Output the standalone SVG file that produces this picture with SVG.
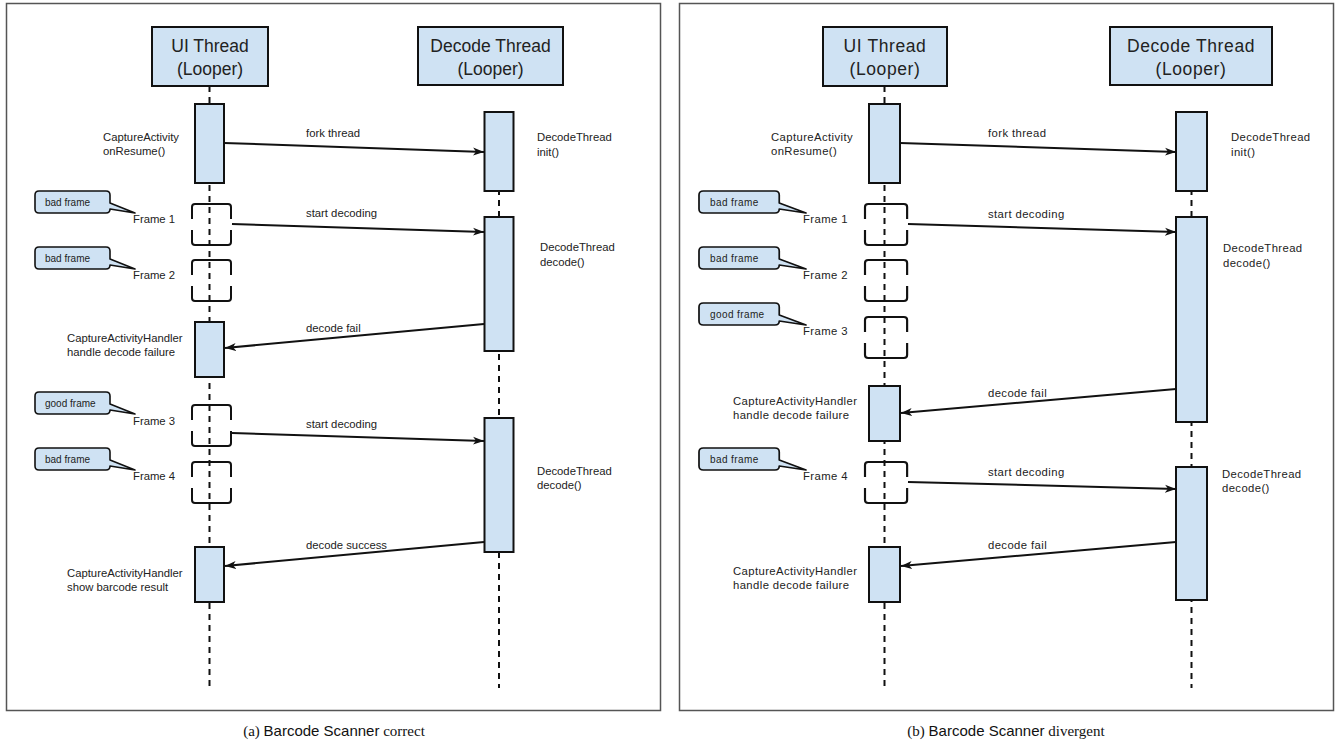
<svg xmlns="http://www.w3.org/2000/svg" xmlns:xlink="http://www.w3.org/1999/xlink" width="1340" height="749" viewBox="0 0 1340 749">
  <style>
    .panel { fill: #ffffff; stroke: #555555; stroke-width: 1.5; }
    .head { fill: #cfe2f3; stroke: #111111; stroke-width: 2; }
    .act { fill: #cfe2f3; stroke: #111111; stroke-width: 2; }
    .life { fill: none; stroke: #111111; stroke-width: 2; stroke-dasharray: 6 5; }
    .frame { fill: none; stroke: #111111; stroke-width: 2; }
    .call { fill: #cfe2f3; stroke: #111111; stroke-width: 1.6; stroke-linejoin: round; }
    .msg { fill: none; stroke: #111111; stroke-width: 2; marker-end: url(#arr); }
    text { font-family: "Liberation Sans", Arial, sans-serif; fill: #222222; }
    .ht { font-size: 17.5px; text-anchor: middle; }
    .t { font-size: 11.3px; }
    .ct { font-size: 10px; }
    .w .t, .w .ct { letter-spacing: 0.4px; }
    .w .ht { letter-spacing: 0.6px; }
    .cap { font-size: 15px; fill: #111111; }
    .serif { font-family: "Liberation Serif", "Times New Roman", serif; }
  </style>
  <defs>
    <marker id="arr" markerUnits="userSpaceOnUse" markerWidth="13" markerHeight="10" refX="11" refY="5" orient="auto">
      <path d="M0,1 L11,5 L0,9 L3,5 Z" fill="#111111"/>
    </marker>
    <!-- camera frame: open-sided bracket box -->
    <path id="frm" class="frame" d="M0,15 V3 Q0,0 3,0 H36 Q39,0 39,3 V15 M0,26 V38 Q0,41 3,41 H36 Q39,41 39,38 V26"/>
    <!-- speech-bubble callout with tail pointing to lower right -->
    <path id="bub" class="call" d="M4,0 H71 Q75,0 75,4 V12 L100,22 L75,18 Q75,22 71,22 H4 Q0,22 0,18 V4 Q0,0 4,0 Z"/>
  </defs>

  <rect width="1340" height="749" fill="#ffffff"/>

  <!-- ===================== (a) correct ===================== -->
  <g id="panel-a">
    <rect class="panel" x="6.5" y="3.5" width="654" height="707"/>

    <g id="a-lifelines">
      <line class="life" x1="209.5" y1="86" x2="209.5" y2="686"/>
      <line class="life" x1="499" y1="112" x2="499" y2="688"/>
    </g>

    <g id="a-ui-head">
      <rect class="head" x="152" y="27" width="116" height="59"/>
      <text class="ht" x="210" y="52">UI Thread</text>
      <text class="ht" x="210" y="75">(Looper)</text>
    </g>
    <g id="a-decode-head">
      <rect class="head" x="418" y="27" width="145" height="58"/>
      <text class="ht" x="490.5" y="52">Decode Thread</text>
      <text class="ht" x="490.5" y="75">(Looper)</text>
    </g>

    <g id="a-resume">
      <rect class="act" x="195" y="104" width="29" height="79"/>
      <text class="t" x="103" y="141">CaptureActivity</text>
      <text class="t" x="103" y="155">onResume()</text>
    </g>
    <g id="a-init">
      <rect class="act" x="484.5" y="112" width="29" height="79"/>
      <text class="t" x="537" y="141">DecodeThread</text>
      <text class="t" x="537" y="156">init()</text>
    </g>
    <g id="a-decode1">
      <rect class="act" x="484.5" y="217" width="29" height="134"/>
      <text class="t" x="540" y="251">DecodeThread</text>
      <text class="t" x="540" y="266">decode()</text>
    </g>
    <g id="a-decode2">
      <rect class="act" x="484.5" y="418" width="29" height="134"/>
      <text class="t" x="537" y="475">DecodeThread</text>
      <text class="t" x="537" y="489">decode()</text>
    </g>

    <g id="a-frame1">
      <use xlink:href="#frm" href="#frm" transform="translate(192 204)"/>
      <use xlink:href="#bub" href="#bub" transform="translate(35 191)"/>
      <text class="ct" x="45" y="206">bad frame</text>
      <text class="t" x="133" y="223">Frame 1</text>
    </g>
    <g id="a-frame2">
      <use xlink:href="#frm" href="#frm" transform="translate(192 260)"/>
      <use xlink:href="#bub" href="#bub" transform="translate(35 247)"/>
      <text class="ct" x="45" y="262">bad frame</text>
      <text class="t" x="133" y="279">Frame 2</text>
    </g>
    <g id="a-fail">
      <rect class="act" x="195" y="322" width="29" height="55"/>
      <text class="t" x="67" y="342">CaptureActivityHandler</text>
      <text class="t" x="67" y="356">handle decode failure</text>
    </g>
    <g id="a-frame3">
      <use xlink:href="#frm" href="#frm" transform="translate(192 405)"/>
      <use xlink:href="#bub" href="#bub" transform="translate(35 392)"/>
      <text class="ct" x="45" y="407">good frame</text>
      <text class="t" x="133" y="425">Frame 3</text>
    </g>
    <g id="a-frame4">
      <use xlink:href="#frm" href="#frm" transform="translate(192 462)"/>
      <use xlink:href="#bub" href="#bub" transform="translate(35 448)"/>
      <text class="ct" x="45" y="463">bad frame</text>
      <text class="t" x="133" y="480">Frame 4</text>
    </g>
    <g id="a-result">
      <rect class="act" x="195" y="547" width="29" height="55"/>
      <text class="t" x="67" y="577">CaptureActivityHandler</text>
      <text class="t" x="67" y="591">show barcode result</text>
    </g>

    <g id="a-connectors">
      <line class="msg" x1="224" y1="143" x2="484" y2="152"/>
      <text class="t" x="306" y="137">fork thread</text>
      <line class="msg" x1="232" y1="224" x2="484" y2="232"/>
      <text class="t" x="306" y="217">start decoding</text>
      <line class="msg" x1="484" y1="324" x2="225" y2="348"/>
      <text class="t" x="306" y="332">decode fail</text>
      <line class="msg" x1="232" y1="433" x2="484" y2="441"/>
      <text class="t" x="306" y="428">start decoding</text>
      <line class="msg" x1="484" y1="542" x2="225" y2="566"/>
      <text class="t" x="306" y="549">decode success</text>
    </g>
  </g>

  <!-- ===================== (b) divergent ===================== -->
  <g id="panel-b" class="w">
    <rect class="panel" x="679.5" y="3.5" width="654" height="707"/>

    <g id="b-lifelines">
      <line class="life" x1="884.5" y1="86" x2="884.5" y2="686"/>
      <line class="life" x1="1191.5" y1="112" x2="1191.5" y2="688"/>
    </g>

    <g id="b-ui-head">
      <rect class="head" x="823" y="27" width="124" height="59"/>
      <text class="ht" x="885" y="52">UI Thread</text>
      <text class="ht" x="885" y="75">(Looper)</text>
    </g>
    <g id="b-decode-head">
      <rect class="head" x="1110" y="27" width="162" height="58"/>
      <text class="ht" x="1191" y="52">Decode Thread</text>
      <text class="ht" x="1191" y="75">(Looper)</text>
    </g>

    <g id="b-resume">
      <rect class="act" x="869" y="104" width="31" height="79"/>
      <text class="t" x="771" y="141">CaptureActivity</text>
      <text class="t" x="771" y="155">onResume()</text>
    </g>
    <g id="b-init">
      <rect class="act" x="1176" y="112" width="31" height="79"/>
      <text class="t" x="1231" y="141">DecodeThread</text>
      <text class="t" x="1231" y="156">init()</text>
    </g>
    <g id="b-decode1">
      <rect class="act" x="1176" y="217" width="31" height="205"/>
      <text class="t" x="1223" y="252">DecodeThread</text>
      <text class="t" x="1223" y="267">decode()</text>
    </g>
    <g id="b-decode2">
      <rect class="act" x="1176" y="467" width="31" height="133"/>
      <text class="t" x="1222" y="478">DecodeThread</text>
      <text class="t" x="1222" y="492">decode()</text>
    </g>

    <g id="b-frame1">
      <use xlink:href="#frm" href="#frm" transform="translate(865 204) scale(1.08 1)"/>
      <use xlink:href="#bub" href="#bub" transform="translate(699 191) scale(1.07 1)"/>
      <text class="ct" x="710" y="206">bad frame</text>
      <text class="t" x="803" y="223">Frame 1</text>
    </g>
    <g id="b-frame2">
      <use xlink:href="#frm" href="#frm" transform="translate(865 260) scale(1.08 1)"/>
      <use xlink:href="#bub" href="#bub" transform="translate(699 247) scale(1.07 1)"/>
      <text class="ct" x="710" y="262">bad frame</text>
      <text class="t" x="803" y="279">Frame 2</text>
    </g>
    <g id="b-frame3">
      <use xlink:href="#frm" href="#frm" transform="translate(865 317) scale(1.08 1)"/>
      <use xlink:href="#bub" href="#bub" transform="translate(699 303) scale(1.07 1)"/>
      <text class="ct" x="710" y="318">good frame</text>
      <text class="t" x="803" y="335">Frame 3</text>
    </g>
    <g id="b-fail1">
      <rect class="act" x="869" y="386" width="31" height="55"/>
      <text class="t" x="733" y="405">CaptureActivityHandler</text>
      <text class="t" x="733" y="419">handle decode failure</text>
    </g>
    <g id="b-frame4">
      <use xlink:href="#frm" href="#frm" transform="translate(865 462) scale(1.08 1)"/>
      <use xlink:href="#bub" href="#bub" transform="translate(699 448) scale(1.07 1)"/>
      <text class="ct" x="710" y="463">bad frame</text>
      <text class="t" x="803" y="480">Frame 4</text>
    </g>
    <g id="b-fail2">
      <rect class="act" x="869" y="547" width="31" height="55"/>
      <text class="t" x="733" y="575">CaptureActivityHandler</text>
      <text class="t" x="733" y="589">handle decode failure</text>
    </g>

    <g id="b-connectors">
      <line class="msg" x1="900" y1="143" x2="1176" y2="152"/>
      <text class="t" x="988" y="137">fork thread</text>
      <line class="msg" x1="908" y1="224" x2="1176" y2="232"/>
      <text class="t" x="988" y="218">start decoding</text>
      <line class="msg" x1="1176" y1="389" x2="901" y2="413"/>
      <text class="t" x="988" y="397">decode fail</text>
      <line class="msg" x1="908" y1="482" x2="1176" y2="489"/>
      <text class="t" x="988" y="476">start decoding</text>
      <line class="msg" x1="1176" y1="542" x2="901" y2="566"/>
      <text class="t" x="988" y="549">decode fail</text>
    </g>
  </g>

  <!-- sub-figure captions -->
  <text class="cap" x="334" y="736" text-anchor="middle"><tspan class="serif">(a) </tspan>Barcode Scanner<tspan class="serif"> correct</tspan></text>
  <text class="cap" x="1006" y="736" text-anchor="middle"><tspan class="serif">(b) </tspan>Barcode Scanner<tspan class="serif"> divergent</tspan></text>
</svg>
